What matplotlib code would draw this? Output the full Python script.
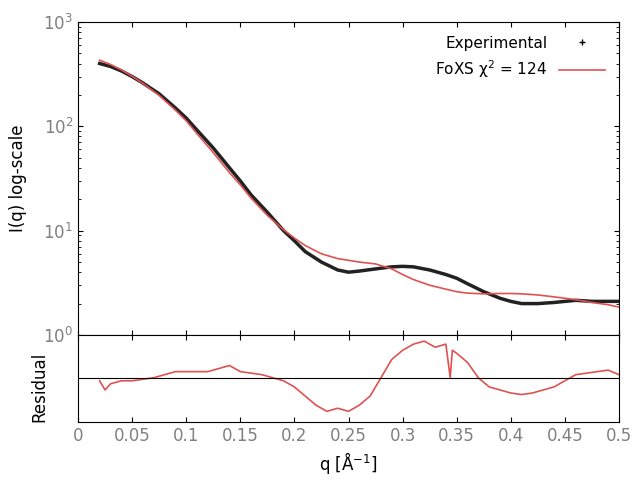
import numpy as np
import matplotlib.pyplot as plt

q_exp = [0.02, 0.03, 0.04, 0.05, 0.06, 0.075, 0.09, 0.1, 0.11, 0.125, 0.14, 0.15, 0.16, 0.175,
         0.19, 0.2, 0.21, 0.225, 0.24, 0.25, 0.26, 0.275, 0.29, 0.3, 0.31, 0.325, 0.34, 0.35,
         0.36, 0.375, 0.39, 0.4, 0.41, 0.425, 0.44, 0.45, 0.46, 0.475, 0.49, 0.5]
i_exp = [400, 375, 340, 300, 260, 205, 150, 120, 92, 62, 40, 30, 22, 15,
         10, 8, 6.3, 5.0, 4.2, 4.0, 4.1, 4.3, 4.5, 4.55, 4.5, 4.2, 3.8, 3.5,
         3.1, 2.6, 2.25, 2.1, 2.0, 2.0, 2.05, 2.1, 2.15, 2.1, 2.1, 2.1]

q_fit = [0.02, 0.03, 0.04, 0.05, 0.06, 0.075, 0.09, 0.1, 0.11, 0.125, 0.14, 0.15, 0.16, 0.175,
         0.19, 0.2, 0.21, 0.225, 0.24, 0.25, 0.26, 0.275, 0.29, 0.3, 0.31, 0.325, 0.34, 0.35,
         0.36, 0.375, 0.39, 0.4, 0.41, 0.425, 0.44, 0.45, 0.46, 0.475, 0.49, 0.5]
i_fit = [430, 392, 348, 302, 258, 198, 143, 113, 85, 56, 36, 27.5, 20.5, 14,
         10.2, 8.5, 7.2, 6.0, 5.4, 5.2, 5.0, 4.8, 4.3, 3.8, 3.4, 3.0, 2.75, 2.6,
         2.52, 2.48, 2.5, 2.5, 2.48, 2.42, 2.32, 2.25, 2.18, 2.05, 1.95, 1.85]

q_res = [0.02, 0.025, 0.03, 0.04, 0.05, 0.07, 0.09, 0.1, 0.12, 0.14, 0.15, 0.17, 0.19, 0.2,
         0.21, 0.22, 0.225, 0.23, 0.24, 0.25, 0.26, 0.27, 0.28, 0.29, 0.3, 0.31, 0.32, 0.33,
         0.34, 0.344, 0.346, 0.35, 0.36, 0.37, 0.38, 0.39, 0.4, 0.41, 0.42, 0.43, 0.44, 0.45,
         0.46, 0.47, 0.48, 0.49, 0.5]
r_res = [-0.1, -0.4, -0.2, -0.1, -0.1, 0.0, 0.2, 0.2, 0.2, 0.4, 0.2, 0.1, -0.1, -0.3,
         -0.6, -0.9, -1.0, -1.1, -1.0, -1.1, -0.9, -0.6, 0.0, 0.6, 0.9, 1.1, 1.2, 1.0,
         1.1, 0.0, 0.9, 0.8, 0.5, 0.0, -0.3, -0.4, -0.5, -0.55, -0.5, -0.4, -0.3, -0.1,
         0.1, 0.15, 0.2, 0.25, 0.1]

red = '#e05252'
grey = '#808080'

fig = plt.figure(figsize=(6.4, 4.8), dpi=100)
ax = fig.add_axes([78/640, 1-335/480, 541/640, 313/480])
axr = fig.add_axes([78/640, 1-422/480, 541/640, 87/480], sharex=ax)

ax.plot(q_exp, i_exp, color='#222222', lw=2.5, zorder=2, label='_nolegend_')
ax.plot([], [], ls='none', marker='+', color='black', ms=4, label='Experimental')
ax.plot(q_fit, i_fit, color=red, lw=1.2, zorder=3, label='FoXS χ$^2$ = 124')
ax.set_yscale('log')
ax.set_ylim(1, 1000)
ax.set_xlim(0, 0.5)
ax.set_ylabel('I(q) log-scale', fontsize=12)
ax.yaxis.set_label_coords(-0.095, 0.5)
ax.tick_params(labelbottom=False, which='both', direction='in', top=True, right=True)
ax.tick_params(axis='y', labelcolor=grey, labelsize=12)
leg = ax.legend(loc='upper right', frameon=False, fontsize=11, markerfirst=False, handlelength=3)

axr.plot(q_res, r_res, color=red, lw=1.2)
axr.axhline(0, color='black', lw=0.8)
axr.set_ylim(-1.45, 1.4)
axr.set_yticks([])
axr.set_xticks(np.arange(0, 0.51, 0.05))
axr.set_xticklabels(['0', '0.05', '0.1', '0.15', '0.2', '0.25', '0.3', '0.35', '0.4', '0.45', '0.5'])
axr.tick_params(direction='in', top=True, labelcolor=grey, labelsize=12)
axr.set_ylabel('Residual', fontsize=12)
axr.yaxis.set_label_coords(-0.055, 0.4)
axr.set_xlabel('q [Å$^{-1}$]', fontsize=12)

fig.savefig('out.png')
